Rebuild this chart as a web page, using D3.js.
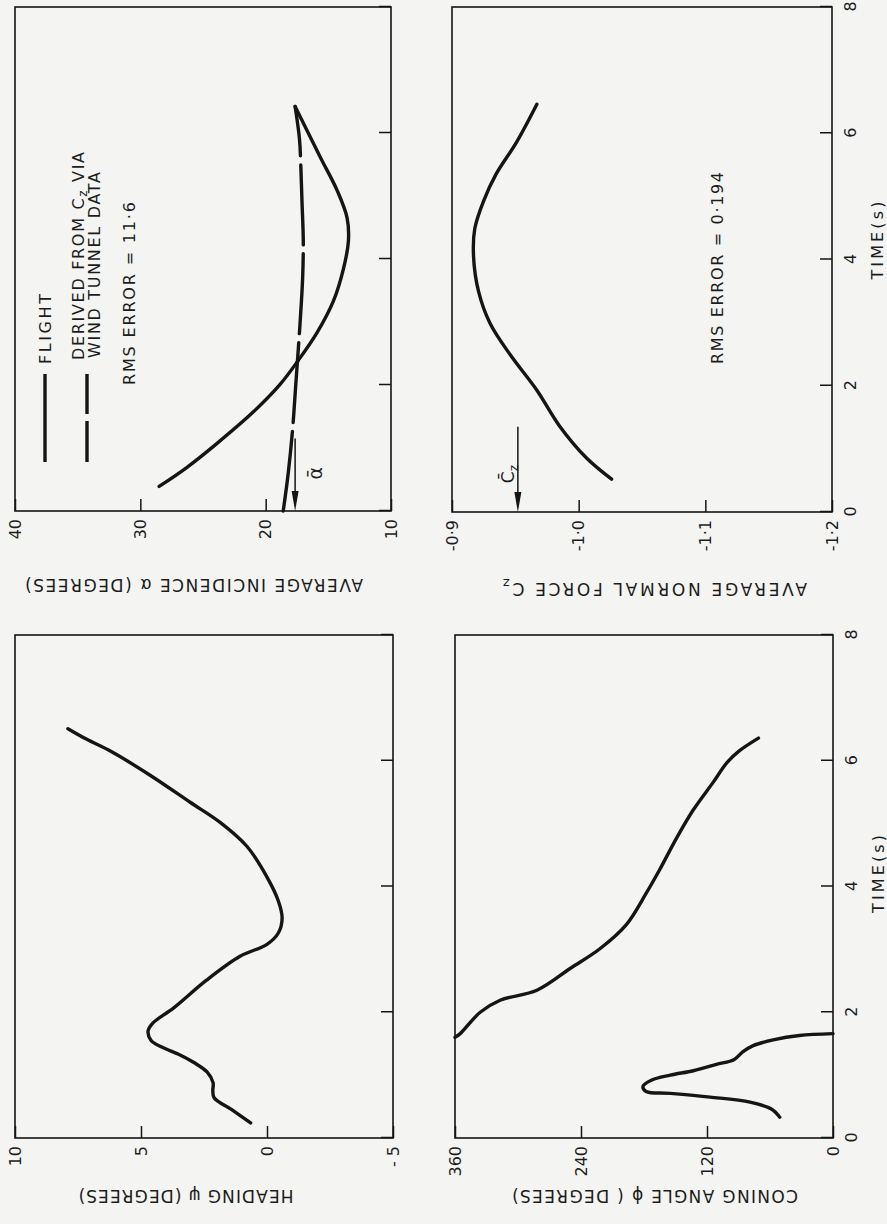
<!DOCTYPE html>
<html>
<head>
<meta charset="utf-8">
<script src="https://cdn.jsdelivr.net/npm/d3@7"></script>
<style>
  body { margin: 0; background: #f4f4f2; }
  svg { display: block; }
  text { font-family: "DejaVu Sans", sans-serif; fill: #1c1c1c; }
</style>
</head>
<body>
<div id="canvas"></div>
<script>
// Size of the page.
const WIDTH = 887;
const HEIGHT = 1224;

// Time axis, shared by all four panels.
const timeTicks = [0, 2, 4, 6, 8];
const timeLabels = ["0", "2", "4", "6", "8"];

// Heading psi (degrees).
const headingTicks = [10, 5, 0, -5];
const headingLabels = ["10", "5", "0", "- 5"];
const headingT   = [0.24, 0.45, 0.64, 0.75, 0.88, 1.05, 1.2, 1.32, 1.45, 1.55, 1.7, 1.82, 2.07, 2.51, 2.89, 3.08, 3.26, 3.5, 3.77, 4.15, 4.64, 5.02, 5.34, 5.77, 6.15, 6.34, 6.51];
const headingPsi = [0.65, 1.4, 2.1, 2.15, 2.14, 2.38, 2.9, 3.45, 4.2, 4.6, 4.72, 4.55, 3.7, 2.4, 1.07, 0.0, -0.45, -0.6, -0.45, 0.0, 0.8, 1.86, 3.05, 4.64, 6.2, 7.15, 7.9];

// Average incidence alpha (degrees).
const incidenceTicks = [40, 30, 20, 10];
const incidenceLabels = ["40", "30", "20", "10"];
const flightT     = [0.39, 0.69, 1.07, 1.57, 2.01, 2.39, 2.83, 3.33, 3.84, 4.28, 4.65, 5.09, 5.6, 6.04, 6.42];
const flightAlpha = [28.5, 26.3, 23.9, 21.0, 18.85, 17.4, 15.9, 14.6, 13.8, 13.4, 13.5, 14.3, 15.6, 16.7, 17.65];
const derivedT     = [0, 0.6, 1.3, 2.0, 3.0, 3.7, 4.3, 4.9, 5.5, 5.9, 6.42];
const derivedAlpha = [18.6, 18.2, 17.85, 17.6, 17.25, 17.05, 17.0, 17.1, 17.2, 17.3, 17.65];
const alphaMean = 17.65;

// Coning angle phi (degrees), drawn in two pieces where it wraps 0 -> 360.
const coningTicks = [360, 240, 120, 0];
const coningLabels = ["360", "240", "120", "0"];
const coningT1   = [0.33, 0.46, 0.57, 0.65, 0.71, 0.74, 0.82, 0.92, 1.0, 1.07, 1.17, 1.25, 1.37, 1.47, 1.56, 1.63, 1.66];
const coningPhi1 = [50.7, 58.7, 79, 117, 155, 178, 181, 173, 155, 133, 111, 94, 86, 76, 57, 32, 0];
const coningT2   = [1.6, 1.66, 2.0, 2.19, 2.35, 2.7, 3.01, 3.39, 3.89, 4.27, 4.77, 5.22, 5.66, 5.97, 6.16, 6.36];
const coningPhi2 = [360, 355, 336, 317, 282, 250, 222, 197, 178, 165, 149, 133, 114, 101, 89, 71];

// Average normal force Cz.
const czTicks = [-0.9, -1.0, -1.1, -1.2];
const czLabels = ["-0·9", "-1·0", "-1·1", "-1·2"];
const czT = [0.52, 0.86, 1.36, 1.93, 2.49, 2.99, 3.49, 4.05, 4.49, 4.93, 5.36, 5.86, 6.46];
const czValue = [-1.026, -1.006, -0.985, -0.967, -0.946, -0.930, -0.921, -0.917, -0.918, -0.925, -0.935, -0.951, -0.967];
const czMean = -0.952;

// Creates the SVG element.
const svg = d3.select("#canvas")
    .append("svg")
    .attr("width", WIDTH)
    .attr("height", HEIGHT);

svg.append("rect")
    .attr("width", WIDTH)
    .attr("height", HEIGHT)
    .attr("fill", "#f4f4f2");

// The figure is printed sideways: draw it upright, then turn the whole group.
const page = svg.append("g")
    .attr("transform", `translate(0, ${HEIGHT}) rotate(-90)`);

const INK = "#151515";

const line = d3.line()
    .x(d => d[0])
    .y(d => d[1])
    .curve(d3.curveCatmullRom.alpha(0.5));

// Draws one framed panel with inward ticks and returns its scales.
function drawPanel(p) {
    const x = d3.scaleLinear().domain([0, 8]).range([p.left, p.right]);
    const y = d3.scaleLinear().domain(p.domain).range([p.bottom, p.top]);
    const g = page.append("g");

    const xAxis = d3.axisBottom(x)
        .tickValues(timeTicks)
        .tickSizeInner(-12)
        .tickSizeOuter(0)
        .tickPadding(13)
        .tickFormat((d, i) => p.timeLabels ? timeLabels[i] : "");

    const gx = g.append("g")
        .attr("transform", `translate(0, ${p.bottom})`)
        .call(xAxis);

    const yAxis = d3.axisLeft(y)
        .tickValues(p.ticks)
        .tickSizeInner(-12)
        .tickSizeOuter(0)
        .tickPadding(8)
        .tickFormat((d, i) => p.labels[i]);

    const gy = g.append("g")
        .attr("transform", `translate(${p.left}, 0)`)
        .call(yAxis);

    [gx, gy].forEach(a => {
        a.select(".domain").remove();
        a.selectAll("line").attr("stroke", INK).attr("stroke-width", 1.5);
        a.selectAll("text").attr("font-size", 16).attr("fill", "#1c1c1c")
            .attr("font-family", "DejaVu Sans, sans-serif");
    });

    g.append("rect")
        .attr("x", p.left)
        .attr("y", p.top)
        .attr("width", p.right - p.left)
        .attr("height", p.bottom - p.top)
        .attr("fill", "none")
        .attr("stroke", INK)
        .attr("stroke-width", 1.6);

    // Y axis title, reading upwards.
    const title = g.append("text")
        .attr("transform", `translate(${p.titleU}, ${p.titleV}) rotate(-90)`)
        .attr("text-anchor", "middle")
        .attr("font-size", 17)
        .attr("textLength", p.titleLength)
        .attr("lengthAdjust", "spacing")
        .text(p.title);
    if (p.titleSub) {
        title.append("tspan").attr("font-size", 13).attr("dy", 4).text(p.titleSub);
    }

    if (p.timeLabels) {
        g.append("text")
            .attr("x", x(p.timeTitleAt))
            .attr("y", p.bottom + 51)
            .attr("text-anchor", "middle")
            .attr("font-size", 16)
            .attr("textLength", 78)
            .attr("lengthAdjust", "spacing")
            .text("TIME(s)");
    }

    return { x, y, g };
}

function plotCurve(panel, ts, vs, dash) {
    const pts = ts.map((t, i) => [panel.x(t), panel.y(vs[i])]);
    panel.g.append("path")
        .attr("d", line(pts))
        .attr("fill", "none")
        .attr("stroke", INK)
        .attr("stroke-width", 3.4)
        .attr("stroke-linecap", "round")
        .attr("stroke-linejoin", "round")
        .attr("stroke-dasharray", dash || null);
}

// Arrow marking a mean value, pointing at the value axis.
function meanArrow(panel, value, tFrom) {
    const v = panel.y(value);
    const u0 = panel.x(0);
    const u1 = panel.x(tFrom);
    panel.g.append("line")
        .attr("x1", u1).attr("x2", u0 + 14)
        .attr("y1", v).attr("y2", v)
        .attr("stroke", INK)
        .attr("stroke-width", 1.5);
    panel.g.append("path")
        .attr("d", `M${u0},${v}L${u0 + 20},${v - 3.5}L${u0 + 20},${v + 3.5}Z`)
        .attr("fill", INK);
}

const heading = drawPanel({
    left: 86, right: 589, top: 15, bottom: 393, domain: [-5, 10],
    ticks: headingTicks, labels: headingLabels, timeLabels: false,
    title: "HEADING ψ (DEGREES)", titleU: 34, titleV: 186, titleLength: 215
});

const incidence = drawPanel({
    left: 713, right: 1217, top: 15, bottom: 391, domain: [10, 40],
    ticks: incidenceTicks, labels: incidenceLabels, timeLabels: false,
    title: "AVERAGE INCIDENCE α (DEGREES)", titleU: 645, titleV: 194, titleLength: 338
});

const coning = drawPanel({
    left: 86, right: 589, top: 455, bottom: 833, domain: [0, 360],
    ticks: coningTicks, labels: coningLabels, timeLabels: true, timeTitleAt: 4.2,
    title: "CONING ANGLE ϕ ( DEGREES)", titleU: 34, titleV: 655, titleLength: 286
});

const cz = drawPanel({
    left: 712, right: 1217, top: 452, bottom: 832, domain: [-1.2, -0.9],
    ticks: czTicks, labels: czLabels, timeLabels: true, timeTitleAt: 4.3,
    title: "AVERAGE  NORMAL  FORCE  C", titleSub: "z", titleU: 641, titleV: 655, titleLength: 304
});

// The curves.
plotCurve(heading, headingT, headingPsi);
plotCurve(incidence, flightT, flightAlpha);
plotCurve(incidence, derivedT, derivedAlpha, "80,9");
plotCurve(coning, coningT1, coningPhi1);
plotCurve(coning, coningT2, coningPhi2);
plotCurve(cz, czT, czValue);

// Mean value arrows and their labels.
meanArrow(incidence, alphaMean, 1.15);
incidence.g.append("text")
    .attr("x", incidence.x(0.6))
    .attr("y", incidence.y(alphaMean) + 27)
    .attr("text-anchor", "middle")
    .attr("font-size", 19)
    .text("ᾱ");

meanArrow(cz, czMean, 1.35);
const czMark = cz.g.append("text")
    .attr("x", cz.x(0.6))
    .attr("y", cz.y(czMean) - 4)
    .attr("text-anchor", "middle")
    .attr("font-size", 17)
    .text("C̄");
czMark.append("tspan").attr("font-size", 12).attr("dy", 4).text("z");

// Legend in the incidence panel.
const lg = incidence.g;
const L0 = incidence.x(0) + 49;
lg.append("line")
    .attr("x1", L0).attr("x2", L0 + 88)
    .attr("y1", 45).attr("y2", 45)
    .attr("stroke", INK).attr("stroke-width", 3.4);
lg.append("text")
    .attr("x", L0 + 98).attr("y", 51)
    .attr("font-size", 16)
    .attr("textLength", 70).attr("lengthAdjust", "spacing")
    .text("FLIGHT");
lg.append("line")
    .attr("x1", L0).attr("x2", L0 + 88)
    .attr("y1", 87).attr("y2", 87)
    .attr("stroke", INK).attr("stroke-width", 3.4)
    .attr("stroke-dasharray", "41,7");
const derivedLabel = lg.append("text")
    .attr("x", L0 + 102).attr("y", 84)
    .attr("font-size", 16)
    .attr("textLength", 208).attr("lengthAdjust", "spacing")
    .text("DERIVED FROM C");
derivedLabel.append("tspan").attr("font-size", 12).attr("dy", 3).text("z");
derivedLabel.append("tspan").attr("dy", -3).text(" VIA");
lg.append("text")
    .attr("x", L0 + 104).attr("y", 100)
    .attr("font-size", 16)
    .attr("textLength", 186).attr("lengthAdjust", "spacing")
    .text("WIND TUNNEL DATA");
lg.append("text")
    .attr("x", L0 + 77).attr("y", 135)
    .attr("font-size", 16)
    .attr("textLength", 183).attr("lengthAdjust", "spacing")
    .text("RMS ERROR = 11·6");

// RMS error note in the normal force panel.
cz.g.append("text")
    .attr("x", cz.x(0) + 148).attr("y", 723)
    .attr("font-size", 16)
    .attr("textLength", 192).attr("lengthAdjust", "spacing")
    .text("RMS ERROR = 0·194");
</script>
</body>
</html>
